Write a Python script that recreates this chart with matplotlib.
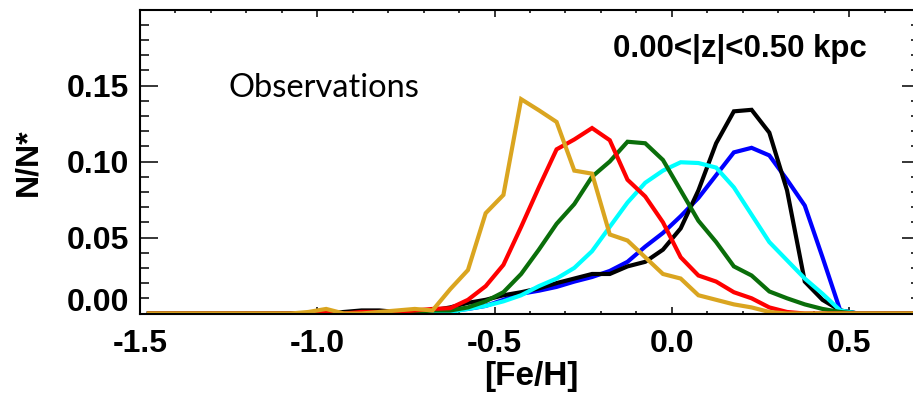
import numpy as np
import matplotlib
matplotlib.use("Agg")
import matplotlib.pyplot as plt
from matplotlib.ticker import MultipleLocator
from matplotlib.transforms import ScaledTranslation

# Bin centres of the [Fe/H] histograms (0.05 dex bins): -1.475 ... 0.675
feh = np.round(np.arange(-1.475, 0.70, 0.05), 3)

zeros_left = [0.0] * 9  # -1.475 ... -1.075

black = zeros_left + [0.0, 0.0, 0.001, 0.002, 0.002, 0.001, 0.001,
        0.002, 0.004, 0.007, 0.009, 0.012, 0.014, 0.0165, 0.020, 0.023, 0.026,
        0.026, 0.031, 0.034, 0.042, 0.056, 0.081, 0.112, 0.133, 0.134, 0.119,
        0.081, 0.021, 0.009, 0.002, 0.0, 0.0, 0.0, 0.0]
blue = zeros_left + [0.0, 0.0, 0.0, 0.0, 0.0, 0.001, 0.001,
        0.001, 0.002, 0.003, 0.005, 0.009, 0.013, 0.015, 0.0175, 0.021, 0.024,
        0.028, 0.034, 0.044, 0.053, 0.064, 0.076, 0.091, 0.106, 0.109, 0.104,
        0.088, 0.071, 0.037, 0.002, 0.0, 0.0, 0.0, 0.0]
cyan = zeros_left + [0.0, 0.0, 0.0, 0.0, 0.0, 0.0, 0.001,
        0.001, 0.001, 0.003, 0.005, 0.008, 0.012, 0.018, 0.023, 0.030, 0.041,
        0.057, 0.073, 0.086, 0.094, 0.0995, 0.099, 0.096, 0.083, 0.065, 0.047,
        0.035, 0.023, 0.013, 0.002, 0.0, 0.0, 0.0, 0.0]
green = zeros_left + [0.0, 0.0, 0.0, 0.0, 0.0, 0.001, 0.001,
        0.002, 0.002, 0.004, 0.008, 0.014, 0.026, 0.042, 0.059, 0.072, 0.090,
        0.100, 0.113, 0.112, 0.101, 0.081, 0.061, 0.047, 0.031, 0.025, 0.0145,
        0.010, 0.006, 0.003, 0.001, 0.0, 0.0, 0.0, 0.0]
red = zeros_left + [0.0, 0.001, 0.0, 0.001, 0.001, 0.001, 0.002,
        0.003, 0.0035, 0.009, 0.018, 0.032, 0.057, 0.083, 0.108, 0.1145, 0.122,
        0.114, 0.088, 0.077, 0.060, 0.037, 0.025, 0.021, 0.014, 0.010, 0.004,
        0.001, 0.0, 0.0, 0.0, 0.0, 0.0, 0.0, 0.0]
gold = zeros_left + [0.001, 0.003, 0.0, 0.0, 0.001, 0.002, 0.003,
        0.002, 0.016, 0.0286, 0.066, 0.078, 0.141, 0.1337, 0.126, 0.094, 0.092,
        0.052, 0.048, 0.037, 0.026, 0.023, 0.012, 0.009, 0.006, 0.004, 0.001,
        0.0, 0.0, 0.0, 0.0, 0.0, 0.0, 0.0, 0.0]

series = [
    (blue, "#0000FF"),
    (black, "#000000"),
    (cyan, "#00FFFF"),
    (green, "#0A6E0A"),
    (red, "#FF0000"),
    (gold, "#DAA520"),
]

xticks = [-1.5, -1.0, -0.5, 0.0, 0.5]
xticklabels = ["-1.5", "-1.0", "-0.5", "0.0", "0.5"]
yticks = [0.0, 0.05, 0.10, 0.15]
yticklabels = ["0.00", "0.05", "0.10", "0.15"]

W, H = 913, 393
fig = plt.figure(figsize=(W / 100, H / 100), dpi=100)
L, R, T, B = 140, 920, 9.5, 313.5
ax = fig.add_axes([L / W, 1 - B / H, (R - L) / W, (B - T) / H])

for vals, col in series:
    ax.plot(feh, vals, color=col, lw=3.0, solid_joinstyle="miter", clip_on=True)

ax.set_xlim(-1.5, 0.7)
ax.set_ylim(0.0, 0.2)

bold = dict(family="Liberation Sans", weight="bold", size=23)
ax.set_xticks(xticks)
ax.set_xticklabels(xticklabels, fontdict=bold)
ax.set_yticks(yticks)
ax.set_yticklabels(yticklabels, fontdict=bold)
ax.xaxis.set_minor_locator(MultipleLocator(0.1))
ax.yaxis.set_minor_locator(MultipleLocator(0.01))
ax.tick_params(axis="x", which="major", direction="in", top=True, bottom=True,
               length=5, width=1.1, pad=11)
ax.tick_params(axis="x", which="minor", direction="in", top=True, bottom=True,
               length=2.5, width=1.1)
ax.tick_params(axis="y", which="major", direction="in", left=True, right=True,
               length=13, width=1.1, pad=8)
ax.tick_params(axis="y", which="minor", direction="in", left=True, right=True,
               length=6.5, width=1.1)
for s in ax.spines.values():
    s.set_linewidth(1.5)

# the 0.00 label sits a bit above the bottom axis
lab0 = ax.get_yticklabels()[0]
lab0.set_transform(lab0.get_transform() + ScaledTranslation(0, 14 / 100, fig.dpi_scale_trans))

fig.text(28 / W, 1 - 162 / H, "N/N*", rotation=90, ha="center", va="center", **bold)
fig.text(531 / W, 1 - 376 / H, "[Fe/H]", ha="center", va="center",
         family="Liberation Sans", weight="bold", size=24)
fig.text(613 / W, 1 - 57 / H, "0.00<|z|<0.50 kpc", ha="left", va="baseline",
         family="Liberation Sans", weight="bold", size=22.5)
fig.text(228 / W, 1 - 97 / H, "Observations", ha="left", va="baseline",
         family="Lato", size=23.5)

fig.savefig("out.png", dpi=100)
